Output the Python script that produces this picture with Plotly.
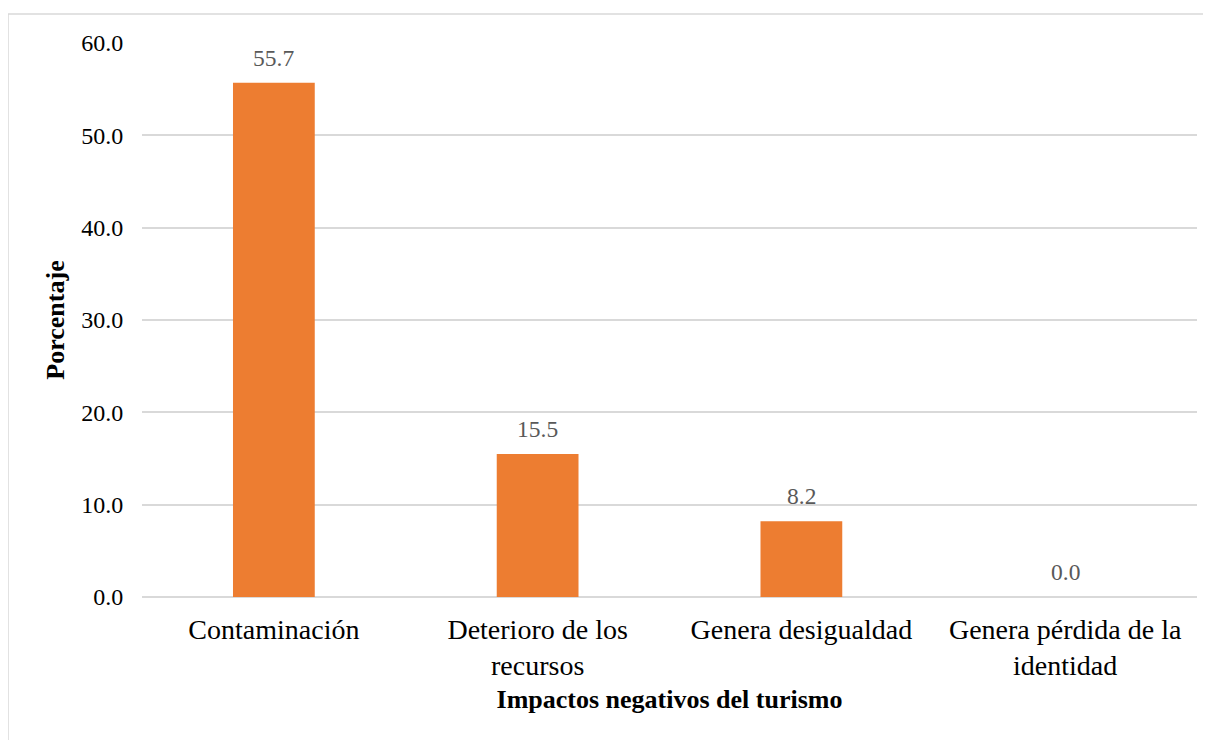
import plotly.graph_objects as go

categories = ["Contaminación", "Deterioro de los<br>recursos", "Genera desigualdad", "Genera pérdida de la<br>identidad"]
values = [55.7, 15.5, 8.2, 0.0]
y_ticks = [0, 10, 20, 30, 40, 50, 60]
y_tick_labels = ["0.0", "10.0", "20.0", "30.0", "40.0", "50.0", "60.0"]

FONT = "Liberation Serif, Times New Roman, serif"

# page body has a ~7px offset; compensate in margins
L, T, PW, PH = 134, 35, 1055, 554

fig = go.Figure(go.Bar(
    x=categories, y=values,
    marker=dict(color="#ED7D31", line=dict(width=0)),
    width=0.31,
    hoverinfo="x+y",
))

for c, v in zip(categories, values):
    fig.add_annotation(x=c, y=v, text=f"{v:.1f}", showarrow=False,
                       yanchor="bottom", yshift=10,
                       font=dict(family=FONT, size=23.5, color="#595959"))

fig.update_layout(
    width=1211, height=740,
    margin=dict(l=L, r=1211 - L - PW, t=T, b=740 - T - PH, autoexpand=False),
    paper_bgcolor="white", plot_bgcolor="white",
    font=dict(family=FONT, color="#000000"),
    showlegend=False,
    xaxis=dict(
        automargin=False,
        tickfont=dict(size=28, color="#000000"),
        showgrid=False, showline=False,
        ticks="outside", ticklen=7, tickcolor="rgba(0,0,0,0)",
        title=dict(text="<b>Impactos negativos del turismo</b>", font=dict(size=26), standoff=9),
    ),
    yaxis=dict(
        automargin=False,
        range=[0, 60], tickvals=y_ticks, ticktext=y_tick_labels,
        tickfont=dict(size=24, color="#000000"),
        showgrid=True, gridcolor="#D9D9D9", gridwidth=1.5,
        zeroline=True, zerolinecolor="#D9D9D9", zerolinewidth=1.5,
        ticks="outside", ticklen=13, tickcolor="rgba(0,0,0,0)",
        title=dict(text="<b>Porcentaje</b>", font=dict(size=26), standoff=9),
    ),
    shapes=[dict(type="rect", xref="paper", yref="paper",
                 x0=(0 - L) / PW, x1=(1230 - L) / PW,
                 y0=(T + PH - 760) / PH, y1=1 + (T - 6) / PH,
                 line=dict(color="#D9D9D9", width=1.5), layer="below")],
)

fig.write_html("out.html")
